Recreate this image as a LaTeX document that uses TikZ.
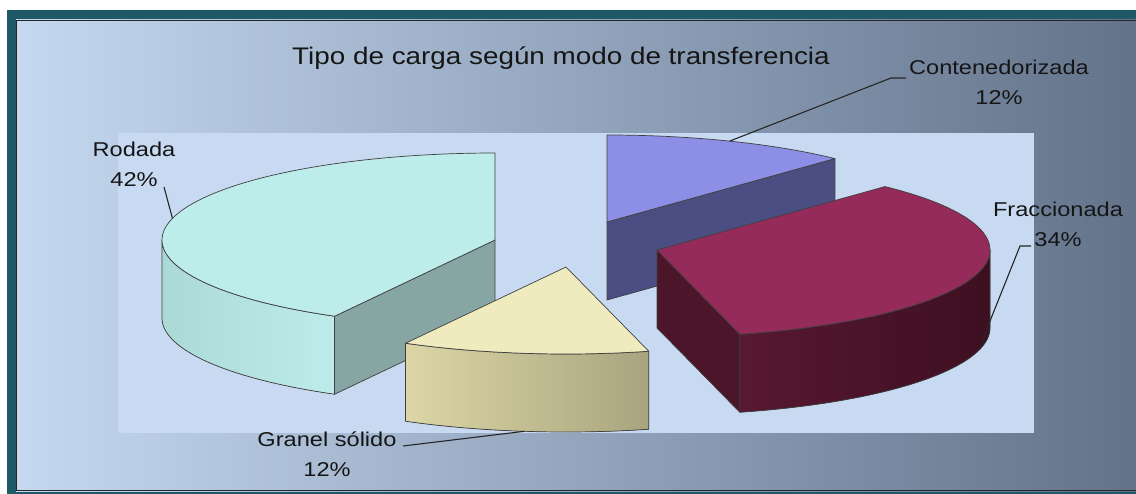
\documentclass[tikz,border=0pt]{standalone}
\usepackage{fontspec}
\usepackage{graphicx}
\newfontfamily\lblfont[FakeStretch=1.18]{Liberation Sans}
\newfontfamily\ttlfont[FakeStretch=1.16]{Liberation Sans}
\definecolor{frameteal}{HTML}{1F5968}
\definecolor{panelL}{HTML}{C4D8F0}
\definecolor{panelM}{HTML}{A4B4C8}
\definecolor{panelR}{HTML}{62738A}
\definecolor{plotbg}{HTML}{C8DAF1}
\definecolor{rodTop}{HTML}{BDEDEB}
\definecolor{rodFace}{HTML}{87A5A2}
\definecolor{rodSideL}{HTML}{ABD9D7}
\definecolor{rodSideR}{HTML}{BEECEA}
\definecolor{graTop}{HTML}{EFEBBE}
\definecolor{graSideL}{HTML}{DCD6A6}
\definecolor{graSideR}{HTML}{A8A47E}
\definecolor{fraTop}{HTML}{952B5B}
\definecolor{fraFace}{HTML}{4C1529}
\definecolor{fraSideL}{HTML}{581832}
\definecolor{fraSideR}{HTML}{3D0F21}
\definecolor{conTop}{HTML}{8D8EE6}
\definecolor{conFace}{HTML}{4B4E82}
\definecolor{txt}{HTML}{151515}
\def\rx{333}
\def\ry{87}
\def\dep{78}
\newcommand{\pieTop}[5]{%
  \filldraw[pieedge, fill=#5] ({#1},{#2}) -- plot[domain=#3:#4, samples=80] ({#1+\rx*cos(\x)},{#2-\ry*sin(\x)}) -- cycle;}
\newcommand{\pieSide}[5]{%
  \filldraw[pieedge, #5] plot[domain=#3:#4, samples=80] ({#1+\rx*cos(\x)},{#2-\ry*sin(\x)}) -- plot[domain=#4:#3, samples=80] ({#1+\rx*cos(\x)},{#2+\dep-\ry*sin(\x)}) -- cycle;}
\newcommand{\pieFace}[4]{%
  \filldraw[pieedge, fill=#4] ({#1},{#2}) -- ({#1+\rx*cos(#3)},{#2-\ry*sin(#3)}) -- ({#1+\rx*cos(#3)},{#2+\dep-\ry*sin(#3)}) -- ({#1},{#2+\dep}) -- cycle;}
\tikzset{
  pieedge/.style={draw=black!75, line width=0.7pt, line join=round},
  lbl/.style={font=\lblfont\fontsize{20}{30}\selectfont, text=txt, align=center, inner sep=0pt},
  leader/.style={draw=black!85, line width=1.1pt},
}
\begin{document}
\begin{tikzpicture}[x=1pt, y=-1pt]
\useasboundingbox (0,0) rectangle (1136,494);
\fill[white] (0,0) rectangle (1136,494);
\fill[frameteal] (7,10) rectangle (1136,494);
\fill[left color=panelL, middle color=panelM, right color=panelR] (16,20) rectangle (1136,491);
\draw[black!85, line width=1.3pt] (1136,20.5) -- (16.5,20.5) -- (16.5,490.5) -- (1136,490.5);
\fill[plotbg] (118,133) rectangle (1034,433);

% title
\node[font=\ttlfont\fontsize{24}{28}\selectfont, text=txt, anchor=base, inner sep=0pt] (title) at (561,65) {Tipo de carga según modo de transferencia};

% Contenedorizada slice (back)
\pieFace{607}{222}{46.8}{conFace}
\pieTop{607}{222}{46.8}{90}{conTop}
% Rodada slice
\pieSide{495}{240}{180}{241.2}{left color=rodSideL, right color=rodSideR}
\pieFace{495}{240}{241.2}{rodFace}
\pieTop{495}{240}{90}{241.2}{rodTop}
% Fraccionada slice
\pieFace{657}{250}{284.4}{fraFace}
\pieSide{657}{250}{284.4}{360}{left color=fraSideL, right color=fraSideR}
\pieTop{657}{250}{284.4}{406.8}{fraTop}
% Granel solido slice
\pieSide{566}{267}{241.2}{284.4}{left color=graSideL, right color=graSideR}
\pieTop{566}{267}{241.2}{284.4}{graTop}

% anchor points on slices
\coordinate (rodP) at ({495+\rx*cos(165.6)},{240-\ry*sin(165.6)});
\coordinate (conP) at ({607+\rx*cos(68.4)},{222-\ry*sin(68.4)});
\coordinate (fraP) at ({657+\rx*cos(345.6)},{250+\dep-\ry*sin(345.6)});
\coordinate (graP) at ({566+\rx*cos(262.8)},{267+\dep-\ry*sin(262.8)});

% labels
\node[lbl] (rodL) at (134,164) {Rodada\\42\%};
\node[lbl] (conL) at (999,82) {Contenedorizada\\12\%};
\node[lbl] (fraL) at (1058,224) {Fraccionada\\34\%};
\node[lbl] (graL) at (327,454) {Granel sólido\\12\%};

% leader lines
\coordinate (rodS) at (164,187);
\coordinate (conS) at (906,78);
\coordinate (conK) at (891,78);
\coordinate (fraS) at (1031,246);
\coordinate (fraK) at (1020,246);
\coordinate (fraK2) at (988,326);
\coordinate (graS) at (403,446);
\draw[leader] (rodS) -- (rodP);
\draw[leader] (conS) -- (conK) -- (conP);
\draw[leader] (fraS) -- (fraK) -- (fraK2) -- (fraP);
\draw[leader] (graS) -- (graP);
\end{tikzpicture}
\end{document}
